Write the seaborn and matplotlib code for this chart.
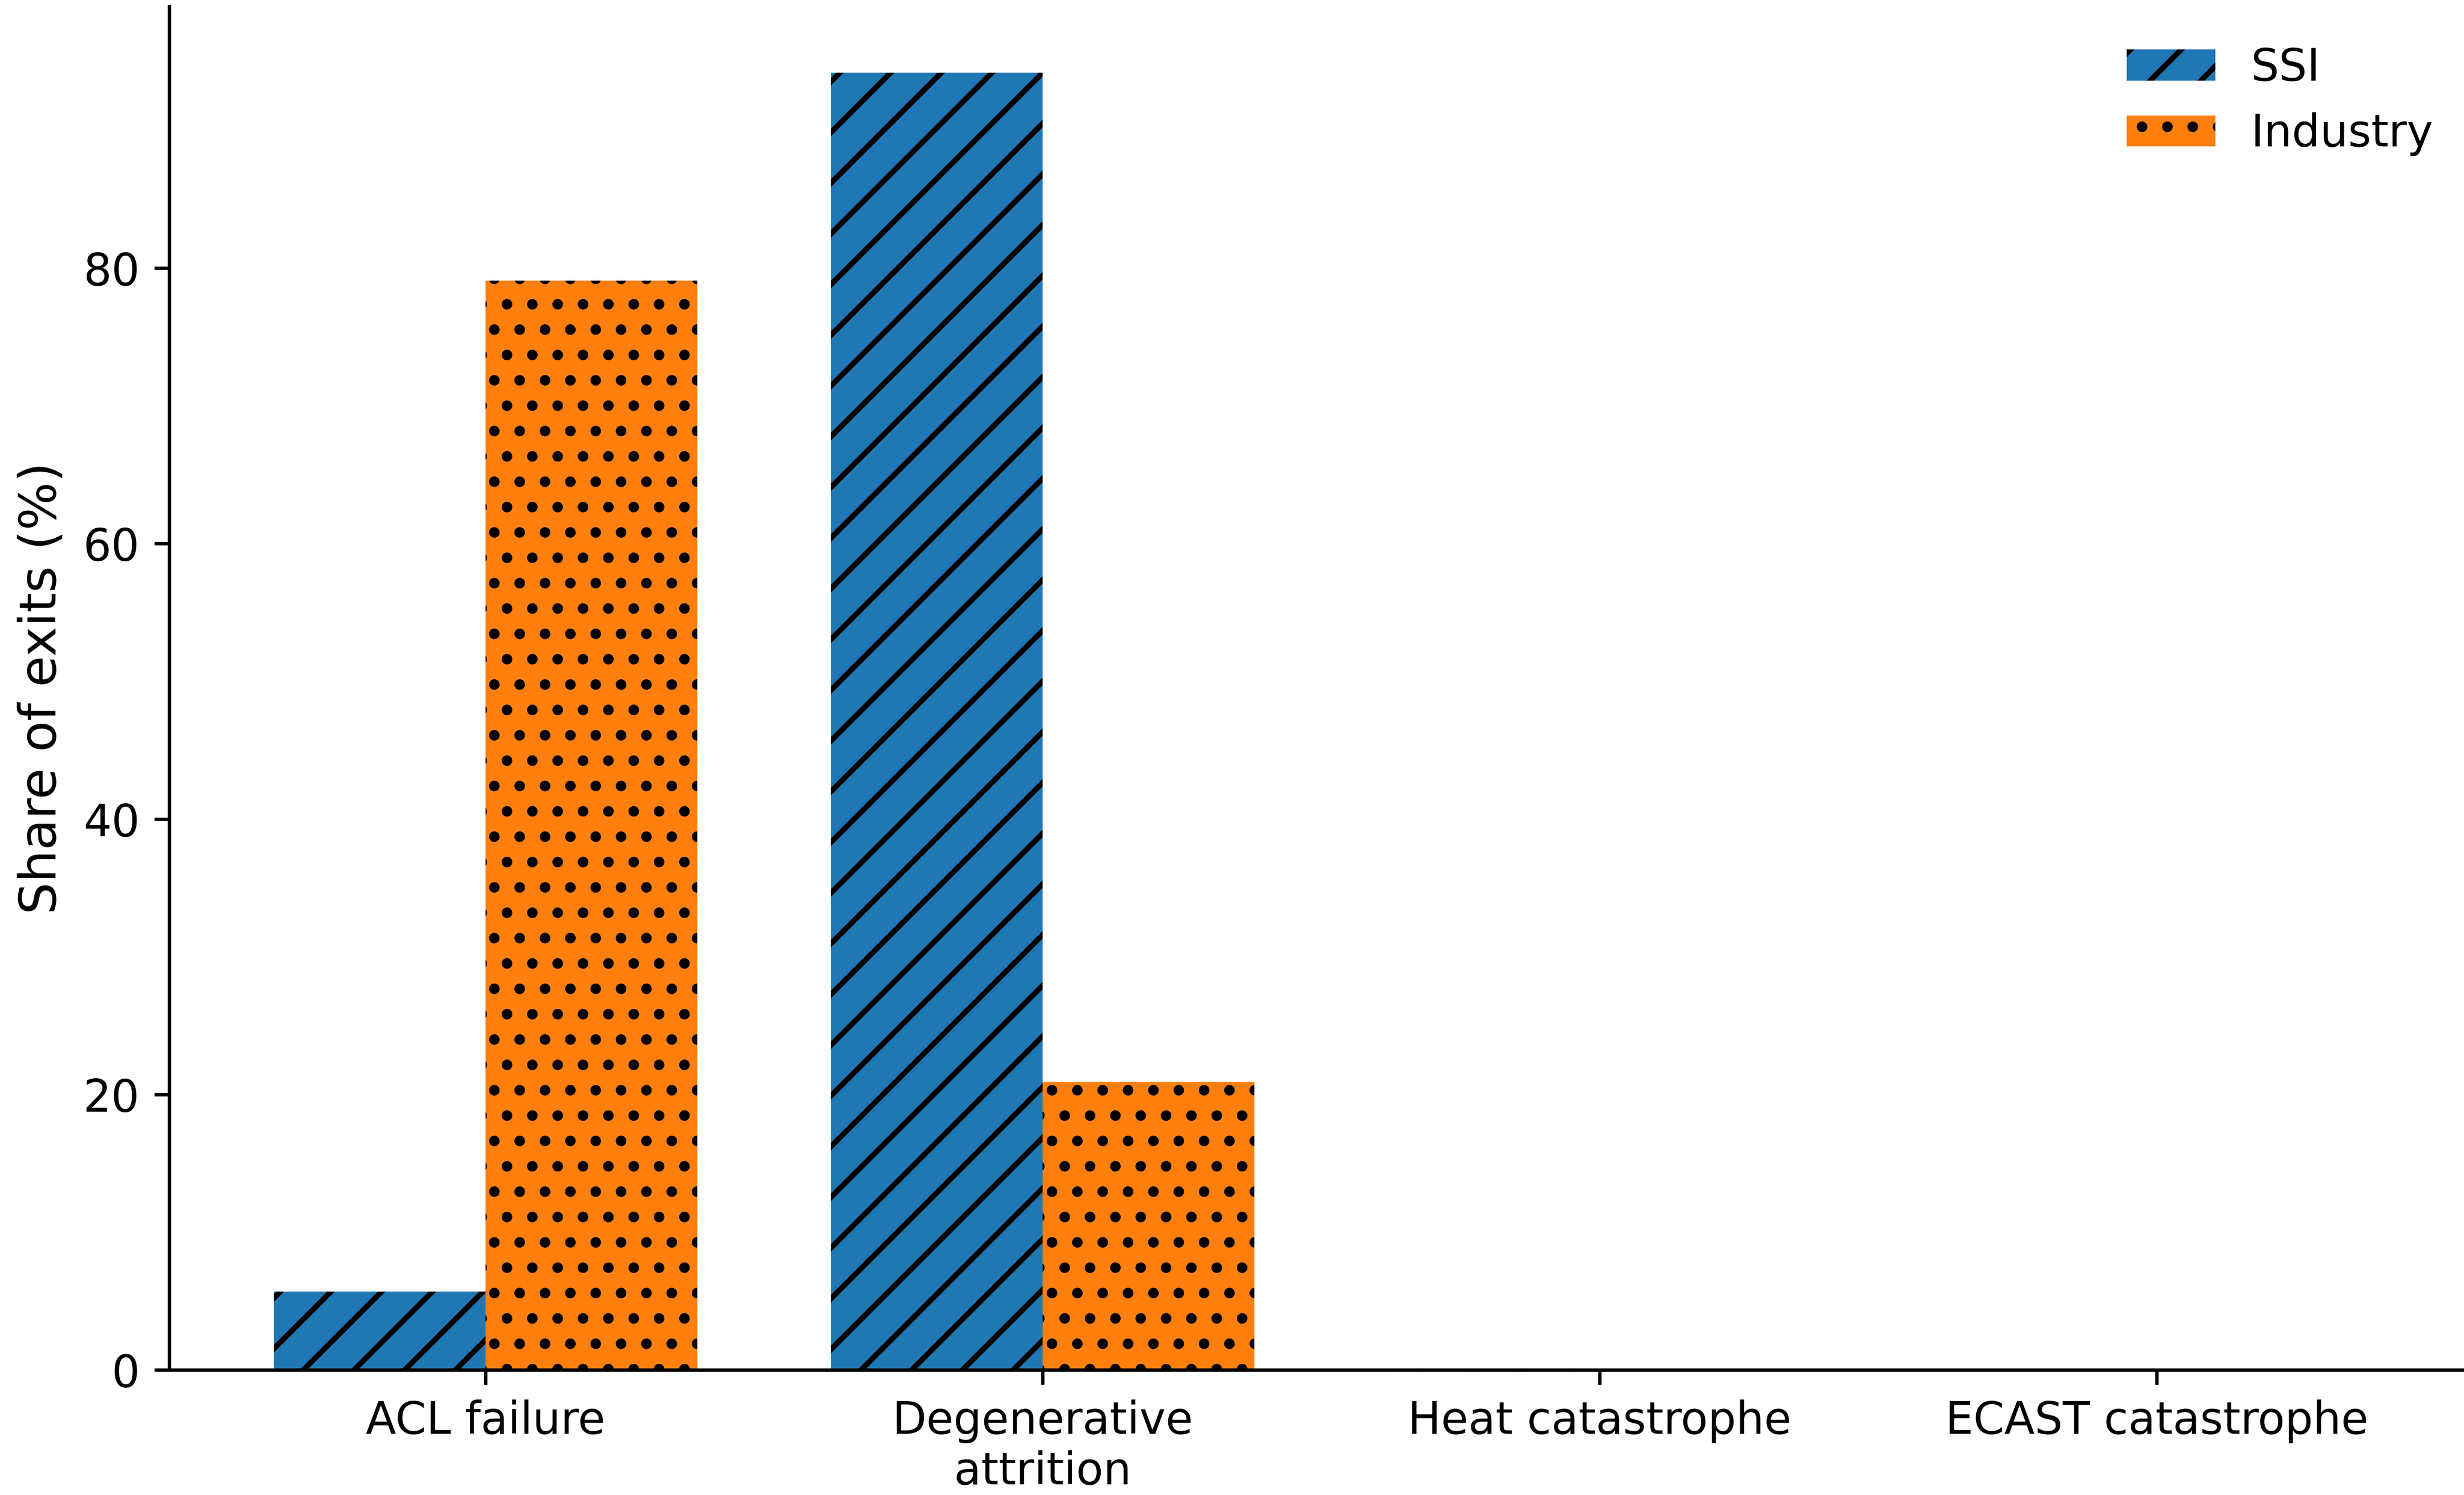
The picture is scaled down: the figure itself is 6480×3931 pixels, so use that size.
import numpy as np
import matplotlib
matplotlib.use("Agg")
import matplotlib.pyplot as plt
import pandas as pd
import seaborn as sns

# values
categories = ["ACL failure", "Degenerative\nattrition", "Heat catastrophe", "ECAST catastrophe"]
groups = ["SSI", "Industry"]
ssi_share = [5.7, 94.2, 0.1, 0.0]
industry_share = [79.1, 20.9, 0.0, 0.0]
y_ticks = [0, 20, 40, 60, 80]

colors = ["#1f77b4", "#ff7f0e"]
hatches = ["//", ".."]

df = pd.DataFrame({
    "failure": categories * 2,
    "share": ssi_share + industry_share,
    "group": [groups[0]] * len(categories) + [groups[1]] * len(categories),
})

plt.rcParams["font.family"] = ["DejaVu Sans"]
plt.rcParams["font.size"] = 10.5
plt.rcParams["hatch.color"] = "black"
plt.rcParams["hatch.linewidth"] = 1.3

W, H = 6480, 3931
fig = plt.figure(figsize=(W / 800, H / 800), dpi=800)
ax = fig.add_axes([445 / W, 1 - 3602 / H, (6504 - 445) / W, (3602 - 17) / H])

sns.barplot(data=df, x="failure", y="share", hue="group", hue_order=groups,
            palette=colors, saturation=1, width=0.76, errorbar=None, ax=ax)

for container, h in zip(ax.containers, hatches):
    for bar in container:
        bar.set_hatch(h)
        bar.set_linewidth(0)

ax.set_xlim(-0.568, 3.568)
ax.set_ylim(0, 99.0)
ax.set_yticks(y_ticks)
ax.tick_params(labelsize=10.5)
ax.set_xlabel("")
ax.set_ylabel("Share of exits (%)", fontsize=12)
sns.despine(ax=ax)

ax.legend(ax.containers, groups, loc="upper right", frameon=False, fontsize=10.5)

fig.savefig("out.png", dpi=800)
